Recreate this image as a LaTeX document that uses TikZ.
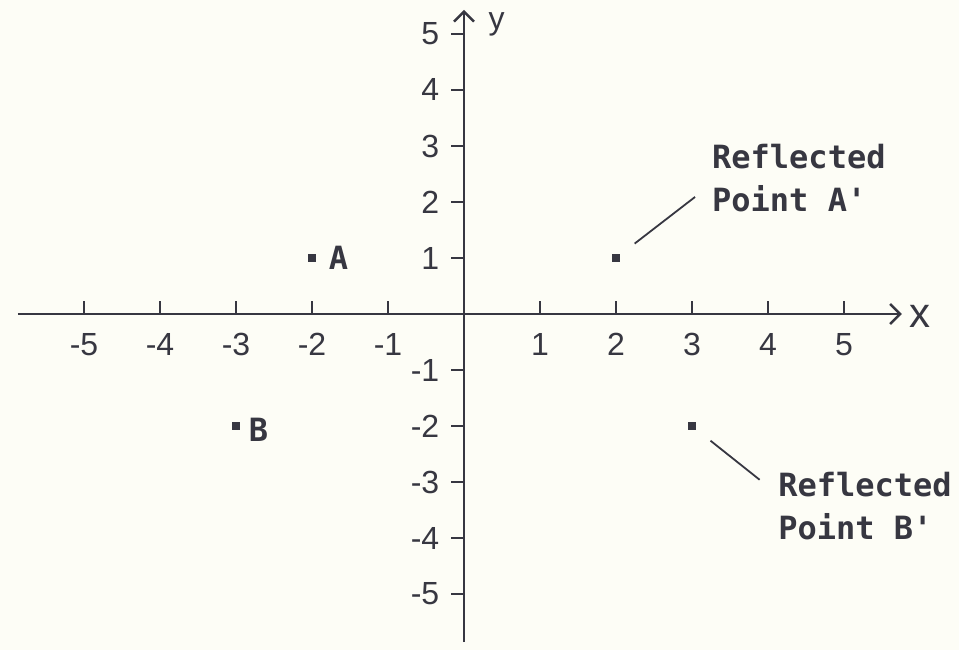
\documentclass[tikz,border=0pt]{standalone}
\usepackage{fontspec}
\setmainfont{Liberation Sans}
\newfontfamily\labelfont{DejaVu Sans Mono}
\usetikzlibrary{arrows.meta, positioning}
\definecolor{ink}{RGB}{55,55,65}
\definecolor{paper}{RGB}{253,253,246}
\tikzstyle{axisline}=[line width=1.2pt, color=ink,
  -{Straight Barb[length=5pt, width=10pt]}]
\tikzstyle{tickmark}=[line width=1pt, color=ink]
\tikzstyle{ptmark}=[rectangle, fill=ink, inner sep=0pt, minimum size=4pt]
\tikzstyle{numlbl}=[font=\fontsize{16}{16}\selectfont, text=ink, inner sep=0pt]
\tikzstyle{lbl}=[font=\labelfont\bfseries\fontsize{16}{21.5}\selectfont,
  text=ink, inner sep=0pt, align=left]
\tikzstyle{leader}=[line width=0.9pt, color=ink]

\begin{document}
\begin{tikzpicture}[x=38pt, y=28pt]
        \path[use as bounding box, fill=paper] (-6.105,-6.0) rectangle (6.513,5.607);
        \draw[axisline] (-5.87,0) -- (5.76,0);
        \draw[axisline] (0,-5.86) -- (0,5.43);
        \node[numlbl, font=\fontsize{21}{21}\selectfont] (xlab) at (6.0,-0.04) {x};
        \node[numlbl, font=\fontsize{16}{16}\selectfont] (ylab) at (0.43,5.17) {y};
        \foreach \i in {-5,-4,-3,-2,-1,1,2,3,4,5} {
          \draw[tickmark] (\i,0) -- ++(0pt,6.5pt);
          \draw[tickmark] (0,\i) -- ++(-6.5pt,0pt);
          \node[numlbl] (xt\i) at (\i,-0.55) {\i};
          \node[numlbl, anchor=east] (yt\i) at (-0.32,\i) {\i};
        }
        \node[ptmark] (ptA) at (-2,1) {};
        \node[ptmark] (ptB) at (-3,-2) {};
        \node[ptmark] (ptAr) at (2,1) {};
        \node[ptmark] (ptBr) at (3,-2) {};
        \node[lbl, right=6pt of ptA] (labA) {A};
        \node[lbl, right=4pt of ptB, yshift=-2pt] (labB) {B};
        \node[lbl, anchor=west] (refA) at (3.26,2.43) {Reflected\\Point A'};
        \node[lbl, anchor=west] (refB) at (4.13,-3.43) {Reflected\\Point B'};
        \coordinate (aTip) at (3.04,2.09);
        \coordinate (bTip) at (3.89,-2.96);
        \draw[leader, shorten <=9pt] (ptAr) -- (aTip);
        \draw[leader, shorten <=9pt] (ptBr) -- (bTip);
      \end{tikzpicture}
\end{document}
